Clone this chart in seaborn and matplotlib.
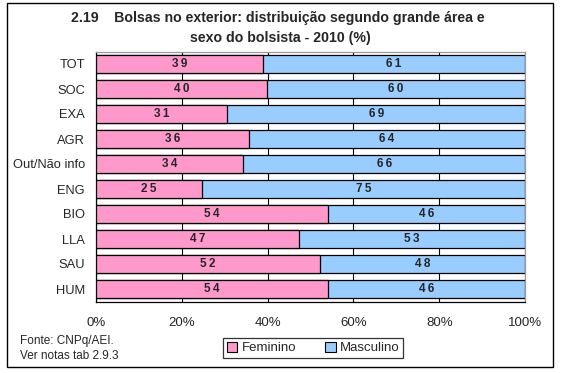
import matplotlib

matplotlib.use("Agg")
import matplotlib.pyplot as plt
import pandas as pd
import seaborn as sns
from matplotlib.patches import Patch, Rectangle
from matplotlib.ticker import FixedLocator, PercentFormatter

categories = ["TOT", "SOC", "EXA", "AGR", "Out/Não info", "ENG", "BIO", "LLA", "SAU", "HUM"]
feminino = [38.9, 39.8, 30.6, 35.7, 34.3, 24.8, 54.1, 47.4, 52.3, 54.1]
masculino = [61.1, 60.2, 69.4, 64.3, 65.7, 75.2, 45.9, 52.6, 47.7, 45.9]

PINK = "#FF99CC"
BLUE = "#99CCFF"

sns.set_style("white")
plt.rcParams["font.family"] = ["Liberation Sans", "DejaVu Sans"]

df = pd.DataFrame({"Area": categories, "Feminino": feminino, "Masculino": masculino})
df["Total"] = df["Feminino"] + df["Masculino"]

fig = plt.figure(figsize=(5.61, 3.73), dpi=100)
ax = fig.add_axes([96 / 561, 1 - 301.5 / 373, 429 / 561, 250 / 373])

# stacked: full bar in blue, then the female share on top in pink
sns.barplot(data=df, y="Area", x="Total", color=BLUE, orient="h", width=0.75,
            edgecolor="black", linewidth=0.9, saturation=1, ax=ax, zorder=2)
sns.barplot(data=df, y="Area", x="Feminino", color=PINK, orient="h", width=0.75,
            edgecolor="black", linewidth=0.9, saturation=1, ax=ax, zorder=3)

# the original spreads the digits a little
def spaced(v):
    return "\u2009".join(f"{v:.0f}")

ax.bar_label(ax.containers[1], labels=[spaced(v) for v in feminino],
             label_type="center", fontsize=8.5, fontweight="bold", zorder=4)
for i, (f, m) in enumerate(zip(feminino, masculino)):
    ax.text(f + m / 2, i, spaced(m), ha="center", va="center", fontsize=8.5,
            fontweight="bold", zorder=4)

ax.set_xlim(0, 100)
ax.set_ylim(len(categories) - 0.5, -0.5)
ax.set_xticks(range(0, 101, 20))
ax.xaxis.set_major_formatter(PercentFormatter(decimals=0))
ax.set_xlabel("")
ax.set_ylabel("")
ax.xaxis.grid(True, color="black", linewidth=0.8, zorder=0)
ax.set_axisbelow(True)

ax.tick_params(axis="y", which="major", length=0, labelsize=9.3, pad=8)
ax.yaxis.set_minor_locator(FixedLocator([i - 0.5 for i in range(len(categories) + 1)]))
ax.tick_params(axis="y", which="minor", length=4, direction="out", color="black", width=0.8)
ax.tick_params(axis="x", length=6, direction="inout", color="black", width=0.8,
               labelsize=9.5, pad=8)

for side in ["left", "bottom"]:
    ax.spines[side].set_color("black")
    ax.spines[side].set_linewidth(0.9)
for side in ["top", "right"]:
    ax.spines[side].set_color("#999999")
    ax.spines[side].set_linewidth(0.9)

fig.text(0.495, 1 - 18 / 373, "2.19    Bolsas no exterior: distribuição segundo grande área e",
         ha="center", va="center", fontsize=10.2, fontweight="bold")
fig.text(0.5, 1 - 38 / 373, "sexo do bolsista - 2010 (%)",
         ha="center", va="center", fontsize=10.2, fontweight="bold")

fig.text(20 / 561, 1 - 341 / 373, "Fonte: CNPq/AEI.", ha="left", va="center", fontsize=8.5)
fig.text(20 / 561, 1 - 356 / 373, "Ver notas tab 2.9.3", ha="left", va="center", fontsize=8.5)

handles = [Patch(facecolor=PINK, edgecolor="black", linewidth=0.8, label="Feminino"),
           Patch(facecolor=BLUE, edgecolor="black", linewidth=0.8, label="Masculino")]
leg = fig.legend(handles=handles, loc="center", bbox_to_anchor=(313 / 561, 1 - 348 / 373),
                 ncol=2, frameon=True, fancybox=False, fontsize=9.5, handlelength=0.8,
                 handleheight=0.8, handletextpad=0.3, columnspacing=2.2,
                 borderpad=0.3, edgecolor="black")
leg.get_frame().set_linewidth(0.9)

fig.patches.append(Rectangle((7 / 561, 1 - 367 / 373), 546 / 561, 364 / 373,
                             transform=fig.transFigure, fill=False,
                             edgecolor="black", linewidth=1.0))

fig.savefig("out.png", dpi=100, facecolor="white")
